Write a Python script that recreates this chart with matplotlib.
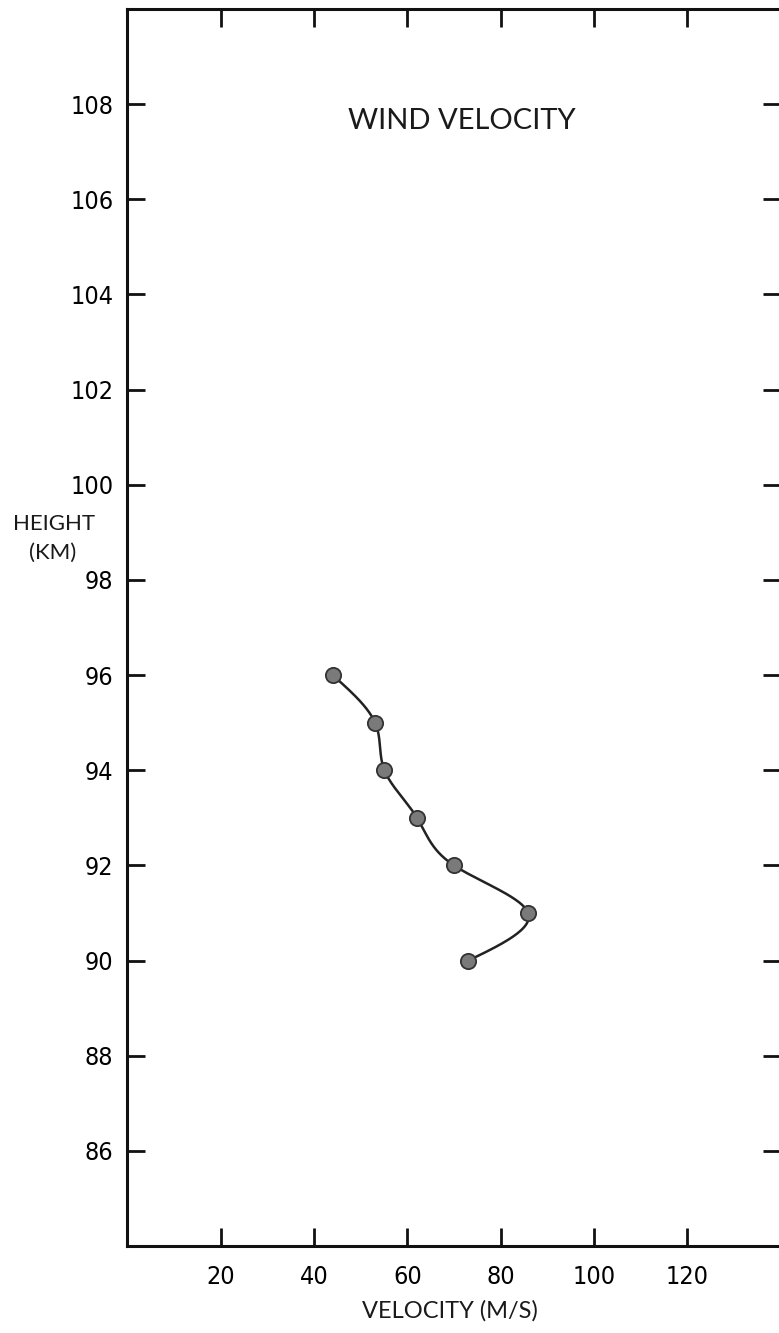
import numpy as np
import matplotlib.pyplot as plt

# wind profile: height (km) vs velocity (m/s)
height = [96, 95, 94, 93, 92, 91, 90]
velocity = [44.0, 53.1, 55.1, 62.1, 70.0, 85.9, 73.1]

x_ticks = [20, 40, 60, 80, 100, 120]
y_ticks = [86, 88, 90, 92, 94, 96, 98, 100, 102, 104, 106, 108]

txt_font = ['Lato', 'DejaVu Sans']


def natural_spline(xk, yk, xs):
    # natural cubic spline y(x) evaluated at xs
    xk = np.asarray(xk, float)
    yk = np.asarray(yk, float)
    n = len(xk)
    h = np.diff(xk)
    A = np.zeros((n, n))
    b = np.zeros(n)
    A[0, 0] = A[-1, -1] = 1
    for i in range(1, n - 1):
        A[i, i - 1] = h[i - 1]
        A[i, i] = 2 * (h[i - 1] + h[i])
        A[i, i + 1] = h[i]
        b[i] = 3 * ((yk[i + 1] - yk[i]) / h[i] - (yk[i] - yk[i - 1]) / h[i - 1])
    c = np.linalg.solve(A, b)
    out = np.empty_like(xs)
    for j, x in enumerate(xs):
        i = np.clip(np.searchsorted(xk, x) - 1, 0, n - 2)
        dx = x - xk[i]
        bb = (yk[i + 1] - yk[i]) / h[i] - h[i] * (2 * c[i] + c[i + 1]) / 3
        d = (c[i + 1] - c[i]) / (3 * h[i])
        out[j] = yk[i] + bb * dx + c[i] * dx ** 2 + d * dx ** 3
    return out


W, H = 779, 1333
fig = plt.figure(figsize=(W / 100, H / 100), dpi=100)
ax = fig.add_axes([127.3 / W, 87 / H, (780.6 - 127.3) / W, (1246 - 9) / H])

ax.set_xlim(0, 140)
ax.set_ylim(84, 110)

# velocity as a smooth function of height
h_sorted = height[::-1]
v_sorted = velocity[::-1]
hs = np.linspace(min(height), max(height), 300)
vs = natural_spline(h_sorted, v_sorted, hs)
ax.plot(vs, hs, color='#222222', lw=1.8, zorder=2)
ax.plot(velocity, height, 'o', ms=11, mfc='#7a7a7a', mec='#333333',
        mew=1.3, zorder=3)

ax.set_xticks(x_ticks)
ax.set_yticks(y_ticks)
ax.tick_params(direction='in', length=13, width=2.0, color='#111111',
               top=True, right=True, pad=10)
ax.tick_params(axis='x', pad=14)
for lab in ax.get_xticklabels() + ax.get_yticklabels():
    lab.set_family('DejaVu Sans')
    lab.set_stretch('condensed')
    lab.set_fontsize(18)

for s in ax.spines.values():
    s.set_linewidth(2.2)
    s.set_color('#111111')

fig.text(462 / W, 1 - 121 / H, 'WIND VELOCITY', ha='center', va='center',
         fontsize=21, family=txt_font, color='#1a1a1a')
fig.text(450 / W, 1 - 1311 / H, 'VELOCITY (M/S)', ha='center', va='center',
         fontsize=17, family=txt_font, color='#1a1a1a')
fig.text(54 / W, 1 - 524 / H, 'HEIGHT', ha='center', va='center',
         fontsize=16, family=txt_font, color='#1a1a1a')
fig.text(53 / W, 1 - 553 / H, '(KM)', ha='center', va='center',
         fontsize=16, family=txt_font, color='#1a1a1a')

fig.savefig('out.png', dpi=100)
